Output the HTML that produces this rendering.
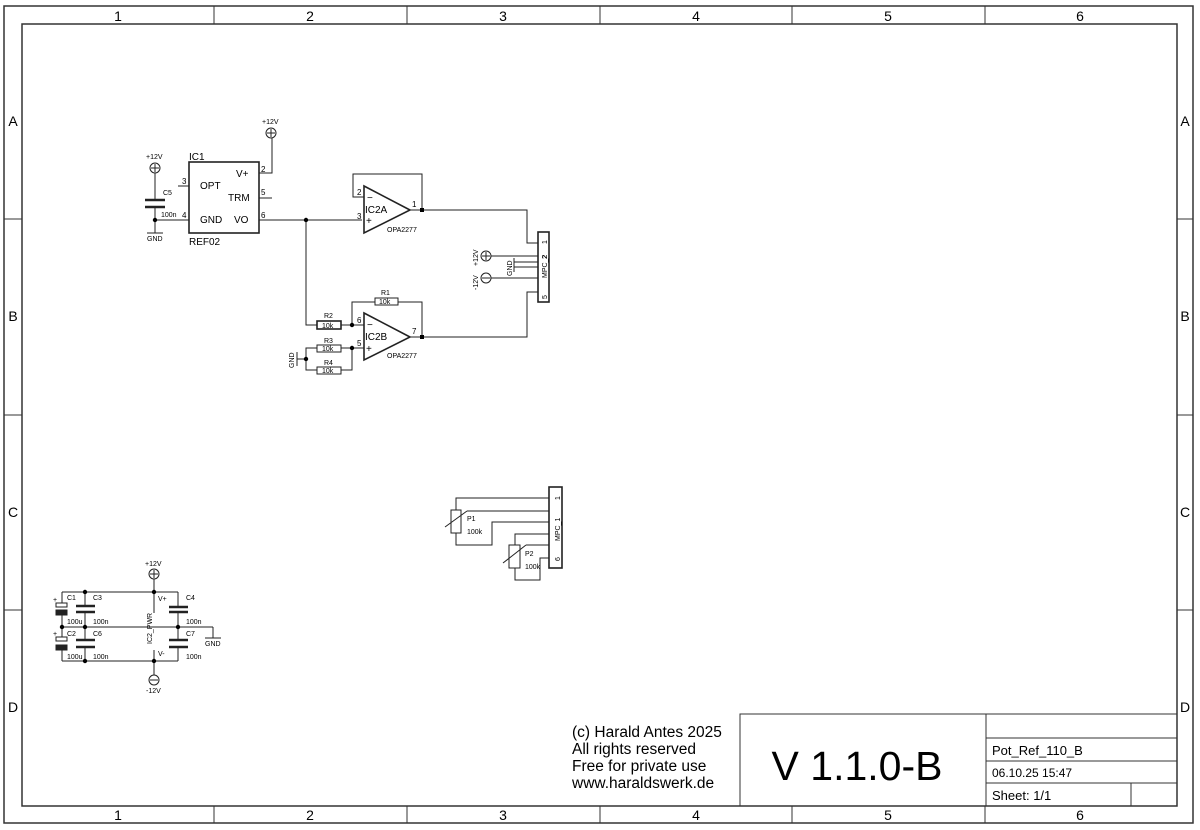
<!DOCTYPE html>
<html><head><meta charset="utf-8"><style>
html,body{margin:0;padding:0;background:#fff}
svg{display:block}
text{font-family:"Liberation Sans",sans-serif;fill:#000}
.m{font-family:"DejaVu Sans Mono","Liberation Mono",monospace}
</style></head><body>
<svg width="1200" height="830" viewBox="0 0 1200 830" xmlns="http://www.w3.org/2000/svg">
<g fill="none" stroke="#333" stroke-width="1.5">
<rect x="4" y="6" width="1189" height="817"/>
<rect x="22" y="24" width="1155" height="782"/>
</g>
<g stroke="#333" stroke-width="1">
<line x1="214" y1="6" x2="214" y2="24"/><line x1="407" y1="6" x2="407" y2="24"/><line x1="600" y1="6" x2="600" y2="24"/><line x1="792" y1="6" x2="792" y2="24"/><line x1="985" y1="6" x2="985" y2="24"/>
<line x1="214" y1="806" x2="214" y2="823"/><line x1="407" y1="806" x2="407" y2="823"/><line x1="600" y1="806" x2="600" y2="823"/><line x1="792" y1="806" x2="792" y2="823"/><line x1="985" y1="806" x2="985" y2="823"/>
<line x1="4" y1="219" x2="22" y2="219"/><line x1="4" y1="415" x2="22" y2="415"/><line x1="4" y1="610" x2="22" y2="610"/>
<line x1="1177" y1="219" x2="1193" y2="219"/><line x1="1177" y1="415" x2="1193" y2="415"/><line x1="1177" y1="610" x2="1193" y2="610"/>
</g>
<g font-size="14" text-anchor="middle">
<text x="118" y="21">1</text><text x="310" y="21">2</text><text x="503" y="21">3</text><text x="696" y="21">4</text><text x="888" y="21">5</text><text x="1080" y="21">6</text>
<text x="118" y="820">1</text><text x="310" y="820">2</text><text x="503" y="820">3</text><text x="696" y="820">4</text><text x="888" y="820">5</text><text x="1080" y="820">6</text>
<text x="13" y="126">A</text><text x="13" y="321">B</text><text x="13" y="517">C</text><text x="13" y="712">D</text>
<text x="1185" y="126">A</text><text x="1185" y="321">B</text><text x="1185" y="517">C</text><text x="1185" y="712">D</text>
</g>
<g fill="none" stroke="#333" stroke-width="1">
<rect x="740" y="714" width="437" height="92"/>
<line x1="986" y1="714" x2="986" y2="806"/>
<line x1="986" y1="738" x2="1177" y2="738"/>
<line x1="986" y1="761" x2="1177" y2="761"/>
<line x1="986" y1="783" x2="1177" y2="783"/>
<line x1="1131" y1="783" x2="1131" y2="806"/>
</g>
<text x="857" y="780" font-size="41" text-anchor="middle">V 1.1.0-B</text>
<g font-size="15.5">
<text x="572" y="737">(c) Harald Antes 2025</text>
<text x="572" y="754">All rights reserved</text>
<text x="572" y="771">Free for private use</text>
<text x="572" y="788">www.haraldswerk.de</text>
</g>
<g font-size="13" class="m" fill="#222">
<text x="992" y="755">Pot_Ref_110_B</text>
<text x="992" y="777" font-size="12">06.10.25 15:47</text>
<text x="992" y="800">Sheet: 1/1</text>
</g>

<g fill="none" stroke="#222" stroke-width="1">
<rect x="189" y="162" width="70" height="71" stroke-width="1.6"/>
<line x1="178" y1="186" x2="189" y2="186"/>
<line x1="259" y1="198" x2="272" y2="198"/>
<polyline points="259,173 272,173 272,138"/>
<circle cx="271" cy="133" r="5"/>
<line x1="155" y1="220" x2="189" y2="220"/>
<line x1="259" y1="220" x2="362" y2="220"/>
<circle cx="155" cy="168" r="5"/>
<line x1="155" y1="173" x2="155" y2="200"/>
<line x1="155" y1="207" x2="155" y2="233"/>
<line x1="145" y1="200" x2="165" y2="200" stroke-width="2.5"/>
<line x1="145" y1="207" x2="165" y2="207" stroke-width="2.5"/>
<line x1="147" y1="233" x2="163" y2="233"/>
<polygon points="364,186 364,233 410,210" stroke-width="1.6"/>
<polyline points="364,197 353,197 353,174 422,174 422,210"/>
<line x1="410" y1="210" x2="422" y2="210"/>
<polyline points="422,210 527,210 527,243 538,243"/>
<rect x="538" y="232" width="11" height="70" stroke-width="1.6"/>
<circle cx="486" cy="256" r="5"/><line x1="491" y1="256" x2="538" y2="256"/>
<circle cx="486" cy="278" r="5"/><line x1="491" y1="278" x2="538" y2="278"/>
<line x1="514" y1="258" x2="514" y2="272"/>
<line x1="514" y1="262" x2="538" y2="262"/><line x1="514" y1="267" x2="538" y2="267"/>
<polyline points="538,292 527,292 527,337 422,337"/>
<polygon points="364,313 364,360 410,337" stroke-width="1.6"/>
<line x1="410" y1="337" x2="422" y2="337"/>
<polyline points="352,325 352,302 375,302"/>
<polyline points="398,302 422,302 422,337"/>
<rect x="375" y="298" width="23" height="7"/>
<polyline points="306,220 306,325 317,325"/>
<rect x="317" y="321" width="24" height="8" stroke-width="1.6"/>
<line x1="341" y1="325" x2="364" y2="325"/>
<rect x="317" y="345" width="24" height="7"/>
<rect x="317" y="367" width="24" height="7"/>
<polyline points="317,348 306,348 306,370 317,370"/>
<line x1="341" y1="348" x2="364" y2="348"/>
<polyline points="341,370 352,370 352,348"/>
<line x1="297" y1="359" x2="306" y2="359"/>
<line x1="297" y1="352" x2="297" y2="366"/>
<rect x="549" y="487" width="13" height="81" stroke-width="1.6"/>
<rect x="451" y="510" width="10" height="23"/>
<polyline points="456,510 456,498 549,498"/>
<line x1="467" y1="511" x2="549" y2="511"/>
<line x1="445" y1="527" x2="467" y2="511"/>
<polyline points="549,522 492,522 492,545 456,545 456,533"/>
<rect x="509" y="545" width="11" height="23"/>
<polyline points="549,534 515,534 515,545"/>
<line x1="526" y1="545" x2="549" y2="545"/>
<line x1="503" y1="563" x2="526" y2="545"/>
<polyline points="515,568 515,580 540,580 540,558 549,558"/>
<circle cx="154" cy="574" r="5"/>
<line x1="154" y1="579" x2="154" y2="613"/>
<line x1="62" y1="592" x2="178" y2="592"/>
<line x1="62" y1="627" x2="213" y2="627"/>
<polyline points="213,627 213,638"/>
<line x1="205" y1="638" x2="221" y2="638"/>
<line x1="62" y1="661" x2="178" y2="661"/>
<line x1="154" y1="650" x2="154" y2="675"/>
<circle cx="154" cy="680" r="5"/>
<line x1="62" y1="592" x2="62" y2="603"/><line x1="62" y1="615" x2="62" y2="637"/><line x1="62" y1="649" x2="62" y2="661"/>
<rect x="56" y="603" width="11" height="4"/>
<rect x="56" y="610" width="11" height="5" fill="#222"/>
<rect x="56" y="637" width="11" height="4"/>
<rect x="56" y="645" width="11" height="5" fill="#222"/>
<line x1="85" y1="592" x2="85" y2="606"/><line x1="85" y1="612" x2="85" y2="640"/><line x1="85" y1="647" x2="85" y2="661"/>
<line x1="76" y1="606" x2="95" y2="606" stroke-width="2.5"/><line x1="76" y1="612" x2="95" y2="612" stroke-width="2.5"/>
<line x1="76" y1="640" x2="95" y2="640" stroke-width="2.5"/><line x1="76" y1="647" x2="95" y2="647" stroke-width="2.5"/>
<line x1="178" y1="592" x2="178" y2="607"/><line x1="178" y1="612" x2="178" y2="640"/><line x1="178" y1="647" x2="178" y2="661"/>
<line x1="169" y1="607" x2="188" y2="607" stroke-width="2.5"/><line x1="169" y1="612" x2="188" y2="612" stroke-width="2.5"/>
<line x1="169" y1="640" x2="188" y2="640" stroke-width="2.5"/><line x1="169" y1="647" x2="188" y2="647" stroke-width="2.5"/>
</g>
<g stroke="#222" stroke-width="1">
<line x1="267" y1="133" x2="275" y2="133"/><line x1="271" y1="129" x2="271" y2="137"/>
<line x1="151" y1="168" x2="159" y2="168"/><line x1="155" y1="164" x2="155" y2="172"/>
<line x1="482" y1="256" x2="490" y2="256"/><line x1="486" y1="252" x2="486" y2="260"/>
<line x1="482" y1="278" x2="490" y2="278"/>
<line x1="150" y1="574" x2="158" y2="574"/><line x1="154" y1="570" x2="154" y2="578"/>
<line x1="150" y1="680" x2="158" y2="680"/>
</g>
<g fill="#000">
<circle cx="155" cy="220" r="2.2"/><circle cx="306" cy="220" r="2.2"/>
<rect x="420" y="208" width="4" height="4"/><rect x="420" y="335" width="4" height="4"/>
<circle cx="352" cy="325" r="2.2"/><circle cx="352" cy="348" r="2.2"/><circle cx="306" cy="359" r="2.2"/>
<circle cx="85" cy="592" r="2.2"/><circle cx="154" cy="592" r="2.2"/>
<circle cx="62" cy="627" r="2.2"/><circle cx="85" cy="627" r="2.2"/><circle cx="178" cy="627" r="2.2"/>
<circle cx="85" cy="661" r="2.2"/><circle cx="154" cy="661" r="2.2"/>
</g>
<g font-size="10">
<text x="189" y="160">IC1</text><text x="189" y="245">REF02</text>
<text x="200" y="189">OPT</text><text x="228" y="201">TRM</text>
<text x="200" y="223">GND</text><text x="234" y="223">VO</text><text x="236" y="177">V+</text>
<text x="365" y="213">IC2A</text><text x="365" y="340">IC2B</text>
<text x="367" y="201">−</text><text x="366" y="224">+</text>
<text x="367" y="328">−</text><text x="366" y="352">+</text>
</g>
<g font-size="8">
<text x="182" y="184">3</text><text x="261" y="195">5</text><text x="261" y="172">2</text><text x="182" y="218">4</text><text x="261" y="218">6</text>
<text x="357" y="195">2</text><text x="357" y="219">3</text><text x="412" y="207">1</text>
<text x="357" y="323">6</text><text x="357" y="346">5</text><text x="412" y="334">7</text>
</g>
<g font-size="7">
<text x="262" y="124">+12V</text><text x="146" y="159">+12V</text>
<text x="163" y="195">C5</text><text x="161" y="217">100n</text><text x="147" y="241">GND</text>
<text x="387" y="232">OPA2277</text><text x="387" y="358">OPA2277</text>
<text x="381" y="295">R1</text><text x="379" y="304">10k</text>
<text x="324" y="318">R2</text><text x="322" y="328">10k</text>
<text x="324" y="343">R3</text><text x="322" y="351">10k</text>
<text x="324" y="365">R4</text><text x="322" y="373">10k</text>
<text x="467" y="521">P1</text><text x="467" y="534">100k</text>
<text x="525" y="556">P2</text><text x="525" y="569">100k</text>
<text x="145" y="566">+12V</text><text x="146" y="693">-12V</text>
<text x="67" y="600">C1</text><text x="93" y="600">C3</text><text x="186" y="600">C4</text>
<text x="67" y="624">100u</text><text x="93" y="624">100n</text><text x="186" y="624">100n</text>
<text x="67" y="636">C2</text><text x="93" y="636">C6</text><text x="186" y="636">C7</text>
<text x="67" y="659">100u</text><text x="93" y="659">100n</text><text x="186" y="659">100n</text>
<text x="158" y="601">V+</text><text x="158" y="656">V-</text>
<text x="205" y="646">GND</text>
<text x="53" y="602">+</text><text x="53" y="636">+</text>
<text transform="translate(152,644) rotate(-90)">IC2_PWR</text>
<text transform="translate(294,368) rotate(-90)">GND</text>
<text transform="translate(512,276) rotate(-90)">GND</text>
<text transform="translate(478,266) rotate(-90)">+12V</text>
<text transform="translate(478,290) rotate(-90)">-12V</text>
<text transform="translate(547,278) rotate(-90)">MPC_2</text>
<text transform="translate(547,244) rotate(-90)">1</text>
<text transform="translate(547,259) rotate(-90)">2</text>
<text transform="translate(547,299) rotate(-90)">5</text>
<text transform="translate(560,541) rotate(-90)">MPC_1</text>
<text transform="translate(560,500) rotate(-90)">1</text>
<text transform="translate(560,561) rotate(-90)">6</text>
</g>
</svg>
</body></html>
